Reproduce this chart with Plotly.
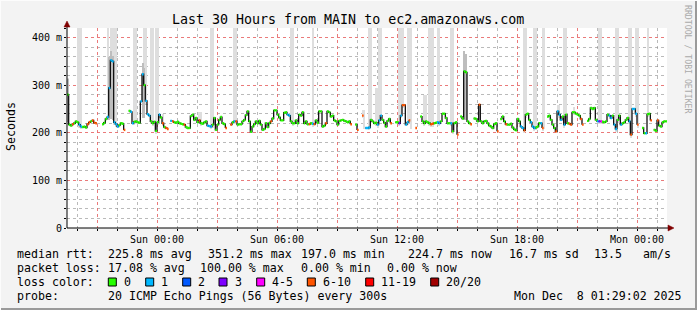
import datetime as dt
import plotly.graph_objects as go

# ---------------- data ----------------
START = dt.datetime(2025, 12, 6, 19, 30)
END = dt.datetime(2025, 12, 8, 1, 30)
STEP_MIN = 5

median_ms = [
    280, 217, 215, 218, 220, 224, 222, 217, 213, 212, 213, 211, 218, 222, 224, 226, 221, 220, None, None,
    None, 218, 221, 229, 233, 294, 352, 350, 222, 218, 213, 216, 220, 219, 206, None, None, 246, 244, 220,
    223, 224, 222, 221, 266, 323, 300, 267, 239, 236, 224, 220, 223, 204, 222, 238, 232, 220, 212, 210,
    208, None, 225, 224, 222, 221, 223, 220, 219, 218, 217, 212, 210, 210, 235, 238, 227, 231, 222, 226,
    220, 219, 222, 224, 215, 214, 213, 217, 231, 206, 217, 227, 233, 220, 218, 210, None, None, 217, 222,
    224, 224, 217, 218, 218, 224, 227, 237, 245, 224, 202, 213, 218, 224, 220, 225, 217, 206, 208, 220,
    212, 220, 224, 230, 247, 247, 238, 232, 226, 226, 242, 243, 238, 236, 224, 220, 220, 226, 220, 238,
    236, 243, 220, 224, 218, 218, 220, 219, 218, 226, 221, 245, 245, 213, 215, 220, 245, 243, 234, 236,
    226, 224, 217, 225, 226, 227, 225, 224, 222, 224, 218, None, None, 217, 206, None, None, 236, None, 210,
    210, 211, 227, 224, 220, 221, 217, 226, 236, 227, 221, 213, 225, 229, 220, None, None, 222, 222, 220,
    236, 258, 258, 217, 222, 226, None, None, None, 210, None, None, 234, 224, 220, 224, 222, 220, 218, 219,
    220, 221, 222, 220, 224, 240, 240, 231, 220, 220, 220, 203, 220, 222, 196, None, 234, 230, 329, 327,
    224, 220, 218, None, 230, 229, 224, 259, 224, 220, 224, 225, 220, 215, 213, 210, 218, 220, 203, None,
    229, 234, 224, 218, 217, 217, 219, 211, 207, 205, 229, 224, 213, 210, 205, 238, 240, 227, 222, 213,
    210, 211, 213, 220, 220, 210, None, None, 234, 236, 227, 217, 210, 203, 245, 238, 227, 234, 217, 238,
    220, 219, 217, 243, 243, 240, 238, 236, 229, 217, None, None, 225, 229, 252, 250, 252, 227, 224, 224,
    224, 223, 222, 224, 238, 236, 231, 236, 217, 208, 227, 236, 217, 220, 222, 227, 231, 224, 196, 250,
    250, 240, 217, None, None, 210, 199, 199, 239, 240, 226, None, 206, 204, 226, 215, 213, 222, 224, 224,
]

lost_pings = [
    0, 0, 0, 8, 0, 0, 0, 1, 1, 0, 0, 0, 8, 8, 0, 8, 8, 8, 20, 20,
    20, 0, 0, 0, 1, 1, 1, 1, 1, 1, 1, 0, 0, 0, 8, 20, 20, 0, 1, 1,
    0, 0, 0, 0, 1, 1, 0, 1, 1, 1, 0, 0, 0, 0, 0, 1, 0, 8, 0, 8,
    8, 20, 1, 8, 0, 0, 0, 0, 0, 0, 8, 0, 0, 0, 0, 0, 0, 0, 0, 8,
    0, 0, 0, 0, 1, 1, 1, 0, 0, 0, 0, 0, 0, 0, 0, 8, 20, 20, 8, 0,
    1, 8, 0, 0, 0, 0, 0, 0, 0, 0, 0, 0, 0, 0, 0, 0, 0, 0, 0, 0,
    0, 0, 8, 0, 0, 0, 0, 0, 0, 0, 0, 0, 1, 1, 0, 0, 0, 0, 0, 0,
    0, 0, 0, 0, 0, 8, 0, 1, 8, 0, 0, 0, 0, 0, 0, 8, 0, 0, 0, 0,
    0, 0, 0, 0, 0, 0, 0, 0, 0, 0, 8, 20, 20, 0, 8, 20, 20, 8, 20, 1,
    1, 1, 0, 0, 0, 0, 1, 1, 1, 0, 0, 0, 0, 0, 8, 20, 20, 0, 0, 3,
    1, 8, 8, 1, 1, 8, 20, 20, 20, 8, 20, 20, 0, 0, 0, 0, 0, 0, 8, 8,
    0, 0, 1, 1, 0, 0, 0, 0, 0, 0, 1, 0, 0, 0, 8, 20, 0, 0, 0, 0,
    0, 0, 8, 20, 0, 0, 0, 8, 0, 0, 0, 0, 0, 0, 0, 0, 0, 0, 8, 20,
    0, 0, 0, 8, 0, 0, 0, 0, 0, 0, 0, 0, 1, 1, 8, 0, 0, 0, 1, 1,
    1, 0, 0, 0, 1, 8, 20, 20, 0, 0, 0, 0, 0, 8, 1, 1, 1, 0, 1, 0,
    0, 8, 8, 0, 0, 0, 0, 0, 8, 8, 20, 20, 0, 0, 0, 0, 0, 0, 1, 3,
    5, 0, 0, 0, 0, 1, 1, 0, 1, 1, 0, 0, 1, 0, 0, 0, 0, 1, 8, 1,
    1, 1, 8, 20, 20, 0, 0, 1, 0, 0, 8, 20, 0, 0, 8, 0, 0, 0, 0, 0,
]

# light smoke: interval index -> highest ping (ms)
smoke_idx = [0, 6, 7, 8, 24, 26, 27, 28, 29, 40, 41, 46, 47, 50, 51, 53, 54, 57,
             79, 80, 86, 87, 100, 101, 134, 135, 147, 177, 178, 181, 182, 185, 186,
             187, 188, 199, 200, 201, 204, 205, 206, 214, 215, 217, 218, 219, 222, 223,
             230, 231, 274, 275, 280, 281, 285, 286, 294, 295, 298, 299, 304,
             319, 320, 329, 330, 337, 338, 341, 342, 348]
smoke_top = [315, 420, 420, 420, 420, 420, 420, 420, 420, 420, 420, 420, 420, 420, 420, 420, 420, 240,
             244, 244, 420, 420, 420, 420, 420, 420, 420, 248, 248, 420, 420, 295, 295,
             420, 420, 420, 420, 420, 420, 420, 420, 280, 280, 420, 420, 420, 420, 420,
             420, 420, 420, 420, 420, 420, 420, 420, 259, 259, 420, 420, 255,
             420, 420, 420, 420, 420, 420, 420, 420, 420]

# darker smoke around the latency spikes
dsmoke_idx = [0, 25, 26, 27, 45, 46, 238, 239]
dsmoke_low = [222, 226, 228, 226, 232, 230, 226, 226]
dsmoke_top = [312, 360, 372, 362, 347, 336, 372, 366]

loss_labels = ["0", "1", "2", "3", "4-5", "6-10", "11-19", "20/20"]
loss_colors = ["#26ff00", "#00b8ff", "#0059ff", "#7e00ff", "#ff00ff", "#ff5500", "#ff0000", "#a10000"]
loss_limits = [0, 1, 2, 3, 5, 10, 19, 20]

y_tickvals = [0, 100, 200, 300, 400]
y_ticktext = ["0", "100 m", "200 m", "300 m", "400 m"]

x_tickvals = [dt.datetime(2025, 12, 6, 21) + dt.timedelta(hours=3 * k) for k in range(10)]
x_ticktext = ["", "Sun 00:00", "", "Sun 06:00", "", "Sun 12:00", "", "Sun 18:00", "", "Mon 00:00"]

title_text = "Last 30 Hours from MAIN to ec2.amazonaws.com"
rtt_stats = ["225.8 ms avg", "351.2 ms max", "197.0 ms min", "224.7 ms now", "16.7 ms sd", "13.5", "am/s"]
loss_stats = ["17.08 % avg", "100.00 % max", "0.00 % min", "0.00 % now"]
probe_text = "20 ICMP Echo Pings (56 Bytes) every 300s"
stamp_text = "Mon Dec  8 01:29:02 2025"

# ---------------- layout geometry ----------------
W, H = 697, 310
L, R, T, B = 67, 30, 28, 82
PW, PH = W - L - R, H - T - B
FONT = "DejaVu Sans Mono"


def px(xp):
    return (xp - L) / PW


def py(yp):
    return (T + PH - yp) / PH


step = dt.timedelta(minutes=STEP_MIN)
times = [START + i * step for i in range(len(median_ms))]

fig = go.Figure()

# light smoke
fig.add_trace(go.Bar(
    x=[times[i] + step / 2 for i in smoke_idx],
    base=[(median_ms[i] if median_ms[i] is not None else 214) - 6 for i in smoke_idx],
    y=[t - ((median_ms[i] if median_ms[i] is not None else 214) - 6) for i, t in zip(smoke_idx, smoke_top)],
    width=step.total_seconds() * 1000,
    marker=dict(color="#dedede", line=dict(width=0)),
    hoverinfo="skip", showlegend=False))

# dark smoke
fig.add_trace(go.Bar(
    x=[times[i] + step / 2 for i in dsmoke_idx],
    base=dsmoke_low,
    y=[t - b for t, b in zip(dsmoke_top, dsmoke_low)],
    width=step.total_seconds() * 1000,
    marker=dict(color="#bdbdbd", line=dict(width=0)),
    hoverinfo="skip", showlegend=False))

# median step line (dark, underneath the loss colours)
fig.add_trace(go.Scatter(
    x=times + [END], y=median_ms + [median_ms[-1]],
    mode="lines", line=dict(color="#111111", width=1.3, shape="hv"),
    connectgaps=False, hoverinfo="skip", showlegend=False))


def bucket(n):
    for k, lim in enumerate(loss_limits):
        if n <= lim:
            return k
    return len(loss_limits) - 1


for k, col in enumerate(loss_colors):
    xs, ys = [], []
    for i, (m, n) in enumerate(zip(median_ms, lost_pings)):
        if m is None or bucket(n) != k:
            continue
        xs += [times[i], times[i] + step, None]
        ys += [m, m, None]
    if xs:
        fig.add_trace(go.Scatter(x=xs, y=ys, mode="lines",
                                 line=dict(color=col, width=2.4),
                                 hoverinfo="skip", showlegend=False))

shapes = []
annotations = []

# axis arrows and extended y axis
shapes.append(dict(type="line", xref="paper", yref="paper",
                   x0=0, x1=0, y0=0, y1=py(23), line=dict(color="black", width=1)))
shapes.append(dict(type="line", xref="paper", yref="paper",
                   x0=0, x1=px(669), y0=0, y1=0, line=dict(color="black", width=1)))
shapes.append(dict(type="path", xref="paper", yref="paper",
                   path=f"M {px(64)} {py(27)} L {px(70)} {py(27)} L {px(67)} {py(21)} Z",
                   fillcolor="#800000", line=dict(color="#800000", width=0.5)))
shapes.append(dict(type="path", xref="paper", yref="paper",
                   path=f"M {px(668)} {py(225)} L {px(668)} {py(231)} L {px(674)} {py(228)} Z",
                   fillcolor="#800000", line=dict(color="#800000", width=0.5)))

# image frame (3D-style)
shapes.append(dict(type="line", xref="paper", yref="paper",
                   x0=px(0), x1=px(W), y0=py(H - 1), y1=py(H - 1),
                   line=dict(color="#9a9a9a", width=2)))
shapes.append(dict(type="line", xref="paper", yref="paper",
                   x0=px(W - 1), x1=px(W - 1), y0=py(0), y1=py(H),
                   line=dict(color="#9a9a9a", width=2)))
shapes.append(dict(type="line", xref="paper", yref="paper",
                   x0=px(0), x1=px(W), y0=py(0.5), y1=py(0.5),
                   line=dict(color="#fcfcfc", width=1)))
shapes.append(dict(type="line", xref="paper", yref="paper",
                   x0=px(0.5), x1=px(0.5), y0=py(0), y1=py(H),
                   line=dict(color="#fcfcfc", width=1)))


def text(x, y, s, size=11.6, color="black", anchor="left", angle=0):
    annotations.append(dict(x=px(x), y=py(y), xref="paper", yref="paper", text=s,
                            showarrow=False, xanchor=anchor, yanchor="middle",
                            textangle=angle, borderpad=0,
                            font=dict(family=FONT, size=size, color=color)))


text(348, 19, title_text, size=13.3, anchor="center")
text(11, 127, "Seconds", size=11.6, anchor="center", angle=-90)
text(688, 59, "RRDTOOL / TOBI OETIKER", size=8.2, color="#aaaaaa", anchor="center", angle=90)

text(16, 254.3, "median rtt:")
for s, x in zip(rtt_stats, [107.3, 207.3, 300, 407.3, 508.3, 593.3, 641.7]):
    text(x, 254.3, s)
text(16, 268.3, "packet loss:")
for s, x in zip(loss_stats, [107.3, 199.3, 300, 386]):
    text(x, 268.3, s)
text(16, 282.3, "loss color:")
box_x = [108.3, 145.7, 182.7, 219.0, 256.7, 307.3, 365.7, 430.7]
for lab, col, bx in zip(loss_labels, loss_colors, box_x):
    shapes.append(dict(type="rect", xref="paper", yref="paper",
                       x0=px(bx), x1=px(bx + 8), y0=py(278), y1=py(286),
                       fillcolor=col, line=dict(color="black", width=1)))
    text(bx + 14.5, 282.3, lab)
text(16, 295.7, "probe:")
text(107.3, 295.7, probe_text)
text(512.7, 295.7, stamp_text)

grid_minor = "rgba(140,140,140,0.6)"
grid_major = "rgba(255,95,95,0.7)"

fig.update_layout(
    width=W, height=H,
    margin=dict(l=L, r=R, t=T, b=B, pad=0),
    paper_bgcolor="#f3f3f3", plot_bgcolor="white",
    barmode="overlay", bargap=0,
    shapes=shapes, annotations=annotations,
    font=dict(family=FONT, size=10, color="black"),
    xaxis=dict(type="date", range=[START, END], tickmode="array",
               tickvals=x_tickvals, ticktext=x_ticktext,
               showgrid=True, gridcolor=grid_major, griddash="dot", gridwidth=1,
               ticks="outside", ticklen=2, tickcolor="black",
               showline=False, zeroline=False,
               tickfont=dict(family=FONT, size=10),
               minor=dict(dtick=3600000, tick0="2025-12-06 00:00", showgrid=True,
                          gridcolor=grid_minor, griddash="dot", gridwidth=1,
                          ticks="outside", ticklen=2, tickcolor="black")),
    yaxis=dict(range=[0, 420], tickmode="array", tickvals=y_tickvals, ticktext=y_ticktext,
               showgrid=True, gridcolor=grid_major, griddash="dot", gridwidth=1,
               ticks="outside", ticklen=2, tickcolor="black",
               showline=False, zeroline=False,
               tickfont=dict(family=FONT, size=10),
               minor=dict(dtick=20, tick0=0, showgrid=True,
                          gridcolor=grid_minor, griddash="dot", gridwidth=1,
                          ticks="outside", ticklen=2, tickcolor="black")),
)

fig.write_html("out.html")
